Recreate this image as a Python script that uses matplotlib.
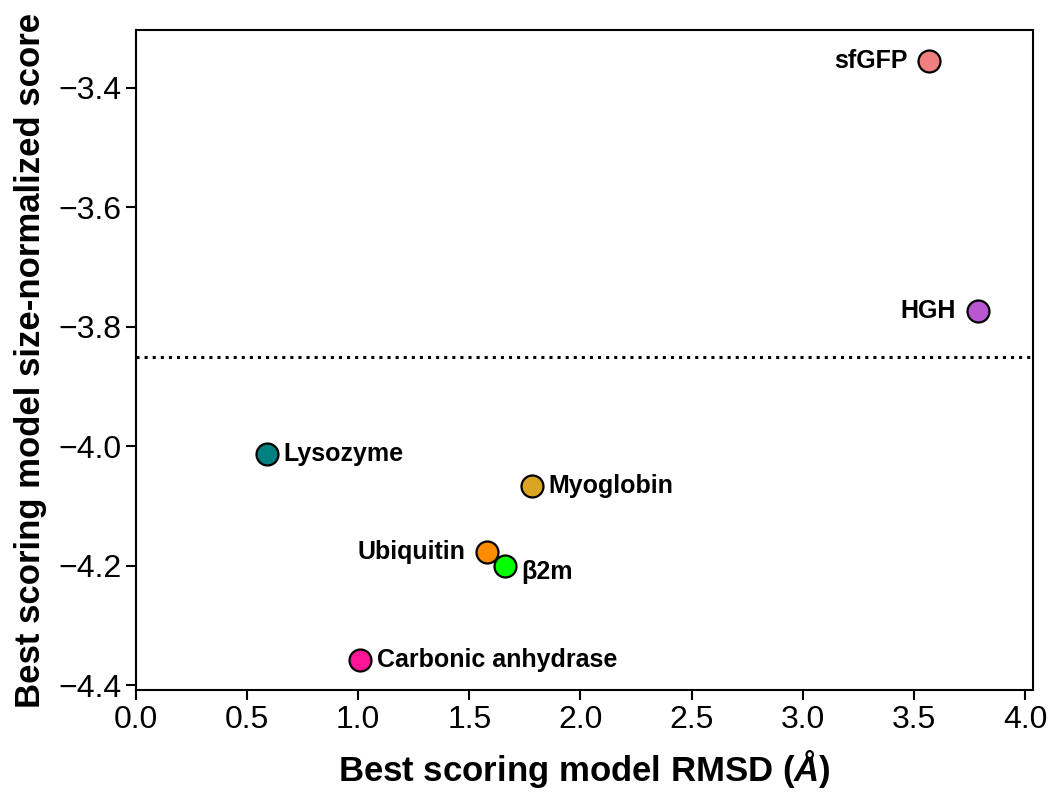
import matplotlib
matplotlib.use('Agg')
import matplotlib.pyplot as plt

# ==========================================
# 数据
# ==========================================
proteins = ['sfGFP', 'HGH', 'Lysozyme', 'Myoglobin', 'Ubiquitin', 'β2m', 'Carbonic anhydrase']
rmsd = [3.57, 3.79, 0.59, 1.78, 1.58, 1.66, 1.01]
score = [-3.355, -3.774, -4.013, -4.067, -4.177, -4.201, -4.358]
colors = ['#F08080', '#BA55D3', '#008080', '#DAA520', '#FF8C00', '#00FF00', '#FF1493']
label_side = ['left', 'left', 'right', 'right', 'left', 'right', 'right']
threshold = -3.85

plt.rcParams['font.family'] = ['Liberation Sans', 'DejaVu Sans']
plt.rcParams['mathtext.fontset'] = 'custom'
plt.rcParams['mathtext.it'] = 'Liberation Sans:italic:bold'
plt.rcParams['mathtext.rm'] = 'Liberation Sans:bold'

fig = plt.figure(figsize=(10.5, 7.99), dpi=100)
ax = fig.add_axes([0.1295, 0.1364, 0.8543, 0.8261])

ax.axhline(threshold, color='black', linestyle=':', linewidth=2.2, zorder=1)

for name, x, y, c, side in zip(proteins, rmsd, score, colors, label_side):
    ax.scatter(x, y, s=250, color=c, edgecolor='black', linewidth=1.6, zorder=3)
    if side == 'right':
        dx, ha = 12, 'left'
    else:
        dx, ha = -16, 'right'
    dy = -4 if name == 'β2m' else 0
    ax.annotate(name, (x, y), xytext=(dx, dy), textcoords='offset points',
                ha=ha, va='center', fontsize=18, fontweight='bold')

ax.set_xlim(0, 4.036)
ax.set_ylim(-4.408, -3.303)
ax.set_xticks([0.0, 0.5, 1.0, 1.5, 2.0, 2.5, 3.0, 3.5, 4.0])
ax.set_yticks([-4.4, -4.2, -4.0, -3.8, -3.6, -3.4])
ax.tick_params(labelsize=23, width=1.5, length=7)
for sp in ax.spines.values():
    sp.set_linewidth(1.5)

ax.set_xlabel(r'Best scoring model RMSD ($\mathit{\AA}$)', fontsize=25, fontweight='bold', labelpad=10)
ax.set_ylabel('Best scoring model size-normalized score', fontsize=25, fontweight='bold', labelpad=8)

fig.savefig('out.png', dpi=100)
